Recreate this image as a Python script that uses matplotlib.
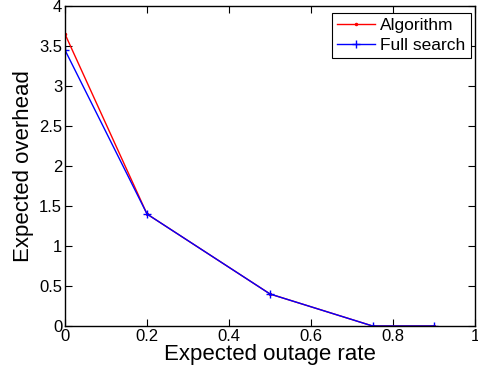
import matplotlib
matplotlib.use("Agg")
import matplotlib.pyplot as plt
from matplotlib.ticker import FuncFormatter

plt.rcParams['font.family'] = ['Liberation Sans', 'DejaVu Sans']

x_vals = [0, 0.2, 0.5, 0.75, 0.9]
algorithm = [3.65, 1.4, 0.4, 0.0, 0.0]
full_search = [3.45, 1.4, 0.4, 0.0, 0.0]
x_ticks = [0, 0.2, 0.4, 0.6, 0.8, 1]
y_ticks = [0, 0.5, 1, 1.5, 2, 2.5, 3, 3.5, 4]

fig = plt.figure(figsize=(4.78, 3.82), dpi=100)
ax = fig.add_axes([0.136, 0.1466, 0.858, 0.8374])

ax.plot(x_vals, algorithm, color='red', marker='.', markersize=3, linewidth=1.0, label='Algorithm')
ax.plot(x_vals, full_search, color='blue', marker='+', markersize=5.5, markeredgewidth=1.0, linewidth=1.0, label='Full search')

ax.set_xlim(0, 1)
ax.set_ylim(0, 4)
ax.set_xticks(x_ticks)
ax.set_yticks(y_ticks)
fmt = FuncFormatter(lambda v, p: ('%g' % v))
ax.xaxis.set_major_formatter(fmt)
ax.yaxis.set_major_formatter(fmt)
ax.tick_params(direction='in', top=True, right=True, labelsize=12, length=5, width=0.8, pad=2)
for s in ax.spines.values():
    s.set_linewidth(1.0)

ax.set_xlabel('Expected outage rate', fontsize=16, labelpad=0)
ax.set_ylabel('Expected overhead', fontsize=16, labelpad=4)

leg = ax.legend(loc='upper right', bbox_to_anchor=(0.9895, 0.979), fontsize=12.5, fancybox=False,
                framealpha=1, edgecolor='black', handlelength=2.2, borderpad=0.3,
                labelspacing=0.25, handletextpad=0.3, borderaxespad=0)
leg.get_frame().set_linewidth(0.8)

fig.savefig('out.png', dpi=100)
